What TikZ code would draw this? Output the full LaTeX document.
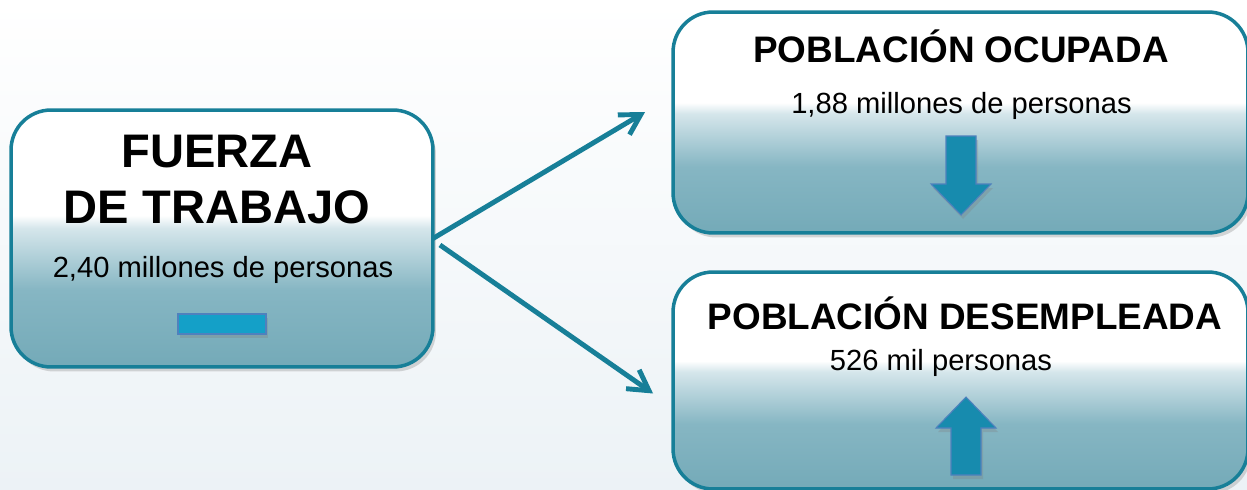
\documentclass[tikz,border=0pt]{standalone}
\usepackage{fontspec}
\setmainfont{Liberation Sans}
\usetikzlibrary{arrows.meta,shadows,positioning}
\definecolor{borde}{RGB}{23,127,152}
\definecolor{cajabaja}{RGB}{116,170,184}
\definecolor{cajamedia}{RGB}{134,182,195}
\definecolor{cajaclara}{RGB}{213,230,235}
\definecolor{flecha}{RGB}{23,139,174}
\definecolor{barra}{RGB}{20,160,200}
\definecolor{contorno}{RGB}{79,129,189}
\definecolor{fondo}{RGB}{236,242,246}
\pgfdeclareverticalshading{cajafondo}{100bp}{color(0bp)=(cajabaja); color(25bp)=(cajabaja); color(40bp)=(cajamedia); color(52bp)=(cajaclara); color(54.5bp)=(white); color(100bp)=(white)}

\begin{document}
\begin{tikzpicture}[x=0.02cm,y=-0.02cm,
  caja/.style={draw=borde,line width=2pt,rounded corners=0.8cm,outer sep=0pt,shade,shading=cajafondo,
    drop shadow={shadow xshift=0.6mm,shadow yshift=-0.9mm,opacity=0.3}},
  titulo/.style={anchor=base,font=\bfseries\fontsize{21}{25}\selectfont},
  cifra/.style={anchor=base,font=\fontsize{16.6}{20}\selectfont},
  indicador/.style={fill=flecha,draw=contorno,line width=0.6pt,
    drop shadow={shadow xshift=0.4mm,shadow yshift=-0.8mm,opacity=0.3}},
  conector/.style={draw=borde,line width=2.8pt,-{Straight Barb[length=4mm,width=4.6mm]}}]
  \shade[top color=white,bottom color=fondo] (0,0) rectangle (1247,490);
  \useasboundingbox (0,0) rectangle (1247,490);

  \node[caja,minimum width=8.44cm,minimum height=5.14cm] (fuerza) at (222,238.5) {};
  \node[caja,minimum width=11.5cm,minimum height=4.42cm] (ocupada) at (960.5,122.5) {};
  \node[caja,minimum width=11.5cm,minimum height=4.34cm] (desempleada) at (960.5,380.5) {};

  \node[titulo,font=\bfseries\fontsize{26.8}{32}\selectfont] (linea1) at ([xshift=-0.1cm,yshift=-1.14cm]fuerza.north) {FUERZA};
  \node[titulo,font=\bfseries\fontsize{26.8}{32}\selectfont] (linea2) at ([xshift=-0.1cm,yshift=-2.26cm]fuerza.north) {DE TRABAJO};
  \node[cifra] (fcifra) at ([xshift=0.02cm,yshift=-3.36cm]fuerza.north) {2,40 millones de personas};

  \node[titulo] (otitulo) at ([xshift=0.01cm,yshift=-1.0cm]ocupada.north) {POBLACIÓN OCUPADA};
  \node[cifra] (ocifra) at ([xshift=0.02cm,yshift=-2.02cm]ocupada.north) {1,88 millones de personas};

  \node[titulo] (dtitulo) at ([xshift=0.09cm,yshift=-1.14cm]desempleada.north) {POBLACIÓN DESEMPLEADA};
  \node[cifra] (dcifra) at ([xshift=-0.39cm,yshift=-1.96cm]desempleada.north) {526 mil personas};

  \draw[indicador,fill=barra] (178,314) rectangle (266,334);
  \draw[indicador] (946,136) -- (976,136) -- (976,184) -- (991,184) -- (961,215) -- (931,184) -- (946,184) -- cycle;
  \draw[indicador] (966,397) -- (996,428) -- (981,428) -- (981,475) -- (951,475) -- (951,428) -- (936,428) -- cycle;

  \draw[conector] (fuerza.east) -- ([xshift=-0.56cm,yshift=0.21cm]ocupada.west);
  \draw[conector] ([xshift=0.14cm,yshift=-0.13cm]fuerza.east) -- ([xshift=-0.4cm,yshift=-0.26cm]desempleada.west);
\end{tikzpicture}
\end{document}
